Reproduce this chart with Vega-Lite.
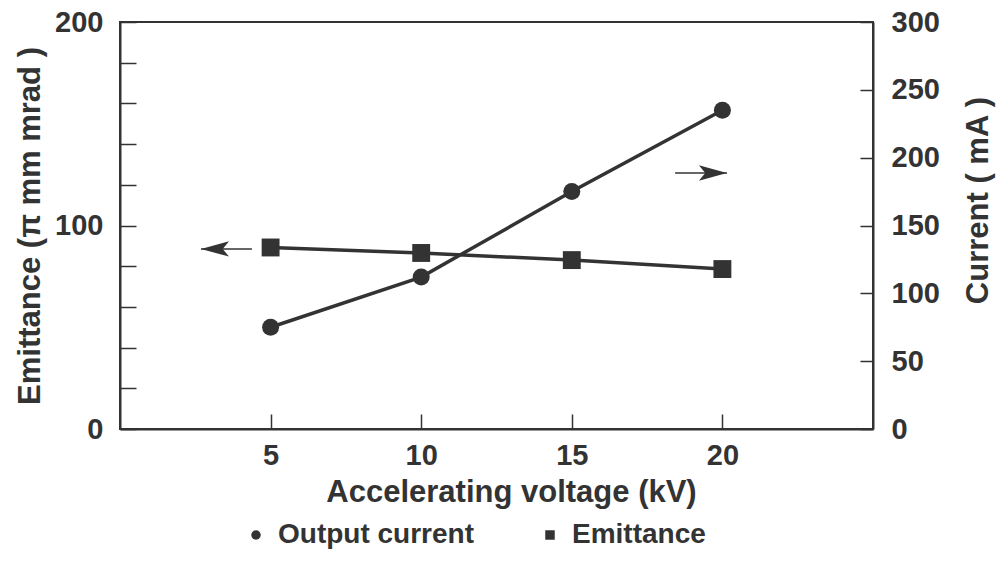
{
  "$schema": "https://vega.github.io/schema/vega-lite/v6.json",
  "width": 753,
  "height": 407,
  "autosize": {"type": "none"},
  "padding": {"left": 120, "top": 22, "right": 133, "bottom": 134},
  "background": "white",
  "config": {
    "font": "Liberation Sans",
    "view": {"stroke": "#333333", "strokeWidth": 2},
    "axis": {
      "labelFont": "Liberation Sans", "labelFontWeight": "bold", "labelFontSize": 29, "labelColor": "#333333",
      "titleFont": "Liberation Sans", "titleFontWeight": "bold", "titleFontSize": 31, "titleColor": "#333333",
      "domainColor": "#333333", "domainWidth": 2, "tickColor": "#333333", "tickWidth": 1.5, "grid": false
    },
    "legend": {
      "labelFont": "Liberation Sans", "labelFontWeight": "bold", "labelFontSize": 28, "labelColor": "#333333", "labelLimit": 0
    }
  },
  "datasets": {
    "series": [
      {"voltage": 5, "series": "Output current", "value": 75},
      {"voltage": 10, "series": "Output current", "value": 112},
      {"voltage": 15, "series": "Output current", "value": 175},
      {"voltage": 20, "series": "Output current", "value": 235},
      {"voltage": 5, "series": "Emittance", "value": 89.2},
      {"voltage": 10, "series": "Emittance", "value": 86.5},
      {"voltage": 15, "series": "Emittance", "value": 83},
      {"voltage": 20, "series": "Emittance", "value": 78.6}
    ],
    "arrows": [
      {"series": "Emittance", "x": 2.69, "x2": 4.38, "value": 88.5},
      {"series": "Output current", "x": 18.43, "x2": 20.15, "value": 188.7}
    ]
  },
  "layer": [
    {
      "layer": [
        {
          "data": {"name": "series"},
          "transform": [{"filter": "datum.series === 'Emittance'"}],
          "mark": {"type": "line", "color": "#333333", "strokeWidth": 3.5},
          "encoding": {
            "x": {"field": "voltage", "type": "quantitative", "scale": {"domain": [0, 25], "nice": false},
              "axis": {"values": [5, 10, 15, 20], "tickSize": -15, "labelPadding": 27, "title": "Accelerating voltage (kV)", "titlePadding": 7, "titleX": 391}},
            "y": {"field": "value", "type": "quantitative", "scale": {"domain": [0, 200], "nice": false},
              "axis": {"values": [0, 20, 40, 60, 80, 100, 120, 140, 160, 180, 200], "labelExpr": "datum.value % 100 === 0 ? datum.label : ''", "tickSize": -16, "labelPadding": 33, "title": "Emittance (π mm mrad )", "titlePadding": 8}}
          }
        },
        {
          "data": {"name": "series"},
          "transform": [{"filter": "datum.series === 'Emittance'"}],
          "mark": {"type": "point", "filled": true, "color": "#333333", "opacity": 1, "size": 320},
          "encoding": {
            "x": {"field": "voltage", "type": "quantitative"},
            "y": {"field": "value", "type": "quantitative"},
            "shape": {"field": "series", "type": "nominal",
              "scale": {"domain": ["Output current", "Emittance"], "range": ["circle", "square"]},
              "legend": {"orient": "none", "legendX": 122, "legendY": 499, "direction": "horizontal", "title": null, "symbolSize": 90, "symbolFillColor": "#333333", "symbolStrokeColor": "#333333", "symbolOpacity": 1, "columnPadding": 62, "labelOffset": 8, "labelLimit": 0}}
          }
        },
        {
          "data": {"name": "arrows"},
          "transform": [{"filter": "datum.series === 'Emittance'"}],
          "mark": {"type": "rule", "color": "#333333", "strokeWidth": 1.5},
          "encoding": {
            "x": {"field": "x", "type": "quantitative"},
            "x2": {"field": "x2"},
            "y": {"field": "value", "type": "quantitative"}
          }
        },
        {
          "data": {"name": "arrows"},
          "transform": [{"filter": "datum.series === 'Emittance'"}],
          "mark": {"type": "point", "filled": true, "color": "#333333", "opacity": 1, "size": 784, "shape": "M0,0 L2,-0.55 L1.55,0 L2,0.55 Z"},
          "encoding": {
            "x": {"field": "x", "type": "quantitative"},
            "y": {"field": "value", "type": "quantitative"}
          }
        }
      ]
    },
    {
      "layer": [
        {
          "data": {"name": "series"},
          "transform": [{"filter": "datum.series === 'Output current'"}],
          "mark": {"type": "line", "color": "#333333", "strokeWidth": 3.5},
          "encoding": {
            "x": {"field": "voltage", "type": "quantitative"},
            "y": {"field": "value", "type": "quantitative", "scale": {"domain": [0, 300], "nice": false},
              "axis": {"orient": "right", "values": [0, 50, 100, 150, 200, 250, 300], "tickSize": -13, "labelPadding": 31, "title": "Current ( mA )", "titleAngle": -90, "titleBaseline": "top", "titlePadding": 24, "titleY": 178}}
          }
        },
        {
          "data": {"name": "series"},
          "transform": [{"filter": "datum.series === 'Output current'"}],
          "mark": {"type": "point", "filled": true, "color": "#333333", "opacity": 1, "size": 290},
          "encoding": {
            "x": {"field": "voltage", "type": "quantitative"},
            "y": {"field": "value", "type": "quantitative"},
            "shape": {"field": "series", "type": "nominal"}
          }
        },
        {
          "data": {"name": "arrows"},
          "transform": [{"filter": "datum.series === 'Output current'"}],
          "mark": {"type": "rule", "color": "#333333", "strokeWidth": 1.5},
          "encoding": {
            "x": {"field": "x", "type": "quantitative"},
            "x2": {"field": "x2"},
            "y": {"field": "value", "type": "quantitative"}
          }
        },
        {
          "data": {"name": "arrows"},
          "transform": [{"filter": "datum.series === 'Output current'"}],
          "mark": {"type": "point", "filled": true, "color": "#333333", "opacity": 1, "size": 784, "shape": "M0,0 L-2,-0.55 L-1.55,0 L-2,0.55 Z"},
          "encoding": {
            "x": {"field": "x2", "type": "quantitative"},
            "y": {"field": "value", "type": "quantitative"}
          }
        }
      ]
    }
  ],
  "resolve": {"scale": {"y": "independent"}}
}
